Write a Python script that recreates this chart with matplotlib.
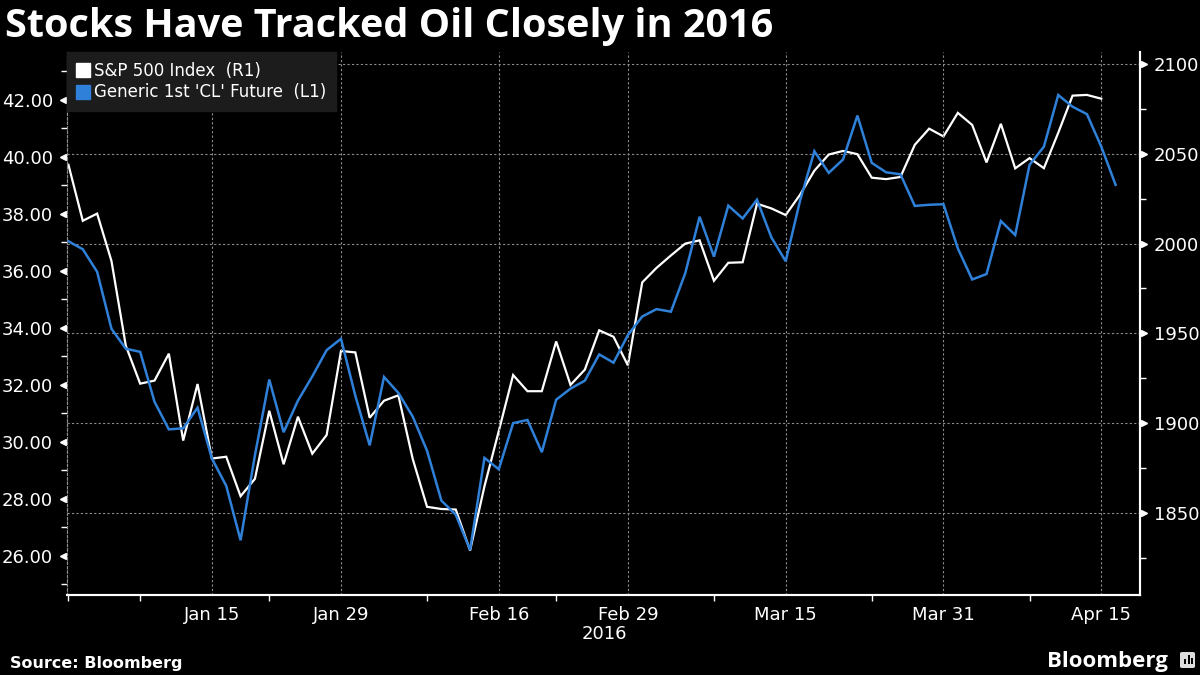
import numpy as np
import matplotlib
matplotlib.use("Agg")
import matplotlib.pyplot as plt
from matplotlib.lines import Line2D
from matplotlib.patches import FancyBboxPatch, Rectangle

# trading days shown on the chart
dates = ['2015-12-31',
         '2016-01-04', '2016-01-05', '2016-01-06', '2016-01-07', '2016-01-08',
         '2016-01-11', '2016-01-12', '2016-01-13', '2016-01-14', '2016-01-15',
         '2016-01-19', '2016-01-20', '2016-01-21', '2016-01-22',
         '2016-01-25', '2016-01-26', '2016-01-27', '2016-01-28', '2016-01-29',
         '2016-02-01', '2016-02-02', '2016-02-03', '2016-02-04', '2016-02-05',
         '2016-02-08', '2016-02-09', '2016-02-10', '2016-02-11', '2016-02-12',
         '2016-02-16', '2016-02-17', '2016-02-18', '2016-02-19',
         '2016-02-22', '2016-02-23', '2016-02-24', '2016-02-25', '2016-02-26',
         '2016-02-29', '2016-03-01', '2016-03-02', '2016-03-03', '2016-03-04',
         '2016-03-07', '2016-03-08', '2016-03-09', '2016-03-10', '2016-03-11',
         '2016-03-14', '2016-03-15', '2016-03-16', '2016-03-17', '2016-03-18',
         '2016-03-21', '2016-03-22', '2016-03-23', '2016-03-24',
         '2016-03-28', '2016-03-29', '2016-03-30', '2016-03-31', '2016-04-01',
         '2016-04-04', '2016-04-05', '2016-04-06', '2016-04-07', '2016-04-08',
         '2016-04-11', '2016-04-12', '2016-04-13', '2016-04-14', '2016-04-15',
         '2016-04-18']

sp500 = [2043.9,
         2012.7, 2016.7, 1990.3, 1943.1, 1922.0,
         1923.7, 1938.7, 1890.3, 1921.8, 1880.3,
         1881.3, 1859.3, 1869.0, 1906.9,
         1877.1, 1903.6, 1883.0, 1893.4, 1940.2,
         1939.4, 1903.0, 1912.5, 1915.5, 1880.1,
         1853.4, 1852.2, 1851.9, 1829.1, 1864.8,
         1895.6, 1926.8, 1917.8, 1917.8,
         1945.5, 1921.3, 1929.8, 1951.7, 1948.1,
         1932.2, 1978.4, 1986.5, 1993.4, 2000.0,
         2001.8, 1979.3, 1989.3, 1989.6, 2022.2,
         2019.6, 2015.9, 2027.2, 2040.6, 2049.6,
         2051.6, 2049.8, 2036.7, 2035.9,
         2037.1, 2055.0, 2064.0, 2059.7, 2072.8,
         2066.1, 2045.2, 2066.7, 2041.9, 2047.6,
         2042.0, 2061.7, 2082.4, 2082.8, 2080.7,
         None]

oil = [37.04,
       36.76, 35.97, 33.97, 33.27, 33.16,
       31.41, 30.44, 30.48, 31.20, 29.42,
       28.46, 26.55, 29.53, 32.19,
       30.34, 31.45, 32.30, 33.22, 33.62,
       31.62, 29.88, 32.28, 31.72, 30.89,
       29.69, 27.94, 27.45, 26.21, 29.44,
       29.04, 30.66, 30.77, 29.64,
       31.48, 31.87, 32.15, 33.07, 32.78,
       33.75, 34.40, 34.66, 34.57, 35.92,
       37.90, 36.50, 38.29, 37.84, 38.50,
       37.18, 36.34, 38.46, 40.20, 39.44,
       39.91, 41.45, 39.79, 39.46,
       39.39, 38.28, 38.32, 38.34, 36.79,
       35.70, 35.89, 37.75, 37.26, 39.72,
       40.36, 42.17, 41.76, 41.50, 40.36,
       39.02]

major_dates = ['2016-01-15', '2016-01-29', '2016-02-16', '2016-02-29',
               '2016-03-15', '2016-03-31', '2016-04-15']
major_labels = ['Jan 15', 'Jan 29', 'Feb 16', 'Feb 29', 'Mar 15', 'Mar 31', 'Apr 15']
minor_dates = ['2015-12-31', '2016-01-08', '2016-01-22', '2016-02-08', '2016-02-22',
               '2016-03-08', '2016-03-23', '2016-04-08']

BLUE = '#2f80d8'
GRID = '#8c8c8c'

x = np.arange(len(dates))
sp_x = [i for i, v in enumerate(sp500) if v is not None]
sp_y = [v for v in sp500 if v is not None]

fig = plt.figure(figsize=(12, 6.75), dpi=100, facecolor='black')
ax = fig.add_axes([67 / 1200, 1 - 595 / 675, (1140 - 67) / 1200, (595 - 52) / 675])
ax2 = ax.twinx()
ax.set_zorder(ax2.get_zorder() + 1)
ax.patch.set_visible(False)
ax2.patch.set_facecolor('black')

ax2.plot(sp_x, sp_y, color='white', lw=1.6, solid_joinstyle='miter')
ax.plot(x, oil, color=BLUE, lw=1.8, solid_joinstyle='miter')

ax.set_xlim(-0.1, 74.7)
ax.set_ylim(24.63, 43.68)
ax2.set_ylim(1804.3, 2106.7)

# x axis
ax.set_xticks([dates.index(d) for d in major_dates])
ax.set_xticklabels(major_labels)
ax.set_xticks([dates.index(d) for d in minor_dates], minor=True)
ax.tick_params(axis='x', which='major', length=0, pad=8, labelsize=13, colors='white')
ax.tick_params(axis='x', which='minor', length=4, width=1, color='white', direction='out')
ax.grid(axis='x', which='major', color=GRID, lw=0.8, linestyle=(0, (2, 2)))

# left axis (oil)
left_major = np.arange(26, 43, 2)
ax.set_yticks(left_major)
ax.set_yticklabels([f'{v:.2f}' for v in left_major])
ax.set_yticks(np.arange(25, 44, 2), minor=True)
ax.tick_params(axis='y', which='major', length=0, pad=10, labelsize=13, colors='white')
ax.tick_params(axis='y', which='minor', length=4, width=1, color='white', direction='out')
ax.plot([-0.004] * len(left_major), left_major, marker='<', ms=5, color='white',
        ls='none', clip_on=False, transform=ax.get_yaxis_transform())

# right axis (S&P)
right_major = np.arange(1850, 2101, 50)
ax2.set_yticks(right_major)
ax2.set_yticks(np.arange(1825, 2101, 50), minor=True)
ax2.tick_params(axis='y', which='major', length=0, pad=10, labelsize=13, colors='white')
ax2.tick_params(axis='y', which='minor', length=4, width=1, color='white', direction='out')
ax2.plot([1.004] * len(right_major), right_major, marker='>', ms=5, color='white',
         ls='none', clip_on=False, transform=ax2.get_yaxis_transform())
ax2.grid(axis='y', which='major', color=GRID, lw=0.8, linestyle=(0, (2, 2)))

for a in (ax, ax2):
    a.spines['top'].set_visible(False)
    a.spines['left'].set_color(GRID)
    a.spines['left'].set_linestyle((0, (2, 2)))
    a.spines['left'].set_linewidth(0.8)
    a.spines['bottom'].set_color('white')
    a.spines['bottom'].set_linewidth(1.5)
    a.spines['right'].set_color('white')
    a.spines['right'].set_linewidth(1.5)

handles = [Line2D([], [], marker='s', ms=10, color='white', ls='none'),
           Line2D([], [], marker='s', ms=10, color=BLUE, ls='none')]
leg = ax.legend(handles, ['S&P 500 Index  (R1)', "Generic 1st 'CL' Future  (L1)"],
                loc='upper left', bbox_to_anchor=(0, 1), borderaxespad=0,
                fontsize=12, labelcolor='white', frameon=True, fancybox=False,
                facecolor='#1c1c1c', edgecolor='#1c1c1c', framealpha=1,
                handlelength=0.7, handletextpad=0.3, labelspacing=0.2,
                borderpad=0.6)

fig.text(604 / 1200, 1 - 634 / 675, '2016', color='white', fontsize=13,
         ha='center', va='center')

fig.text(5 / 1200, 1 - 37 / 675, 'Stocks Have Tracked Oil Closely in 2016',
         color='white', fontsize=28.5, fontweight='bold', family='Open Sans',
         ha='left', va='baseline')
fig.text(10 / 1200, 1 - 668 / 675, 'Source: Bloomberg', color='white',
         fontsize=11.5, fontweight='bold', ha='left', va='baseline')
fig.text(1168 / 1200, 1 - 667 / 675, 'Bloomberg', color='white', fontsize=16,
         fontweight='bold', family='Open Sans', ha='right', va='baseline')

# small logo square
fig.patches.append(FancyBboxPatch((1180 / 1200, 1 - 668 / 675), 15 / 1200, 16 / 675,
                                  boxstyle='round,pad=0,rounding_size=0.002',
                                  transform=fig.transFigure, facecolor='#dddddd',
                                  edgecolor='none'))
for bx, bh in [(1184, 5), (1187.5, 9), (1191, 6)]:
    fig.patches.append(Rectangle((bx / 1200, 1 - 664 / 675), 2 / 1200, bh / 675,
                                 transform=fig.transFigure, facecolor='black',
                                 edgecolor='none'))

fig.savefig('out.png', dpi=100, facecolor='black')
